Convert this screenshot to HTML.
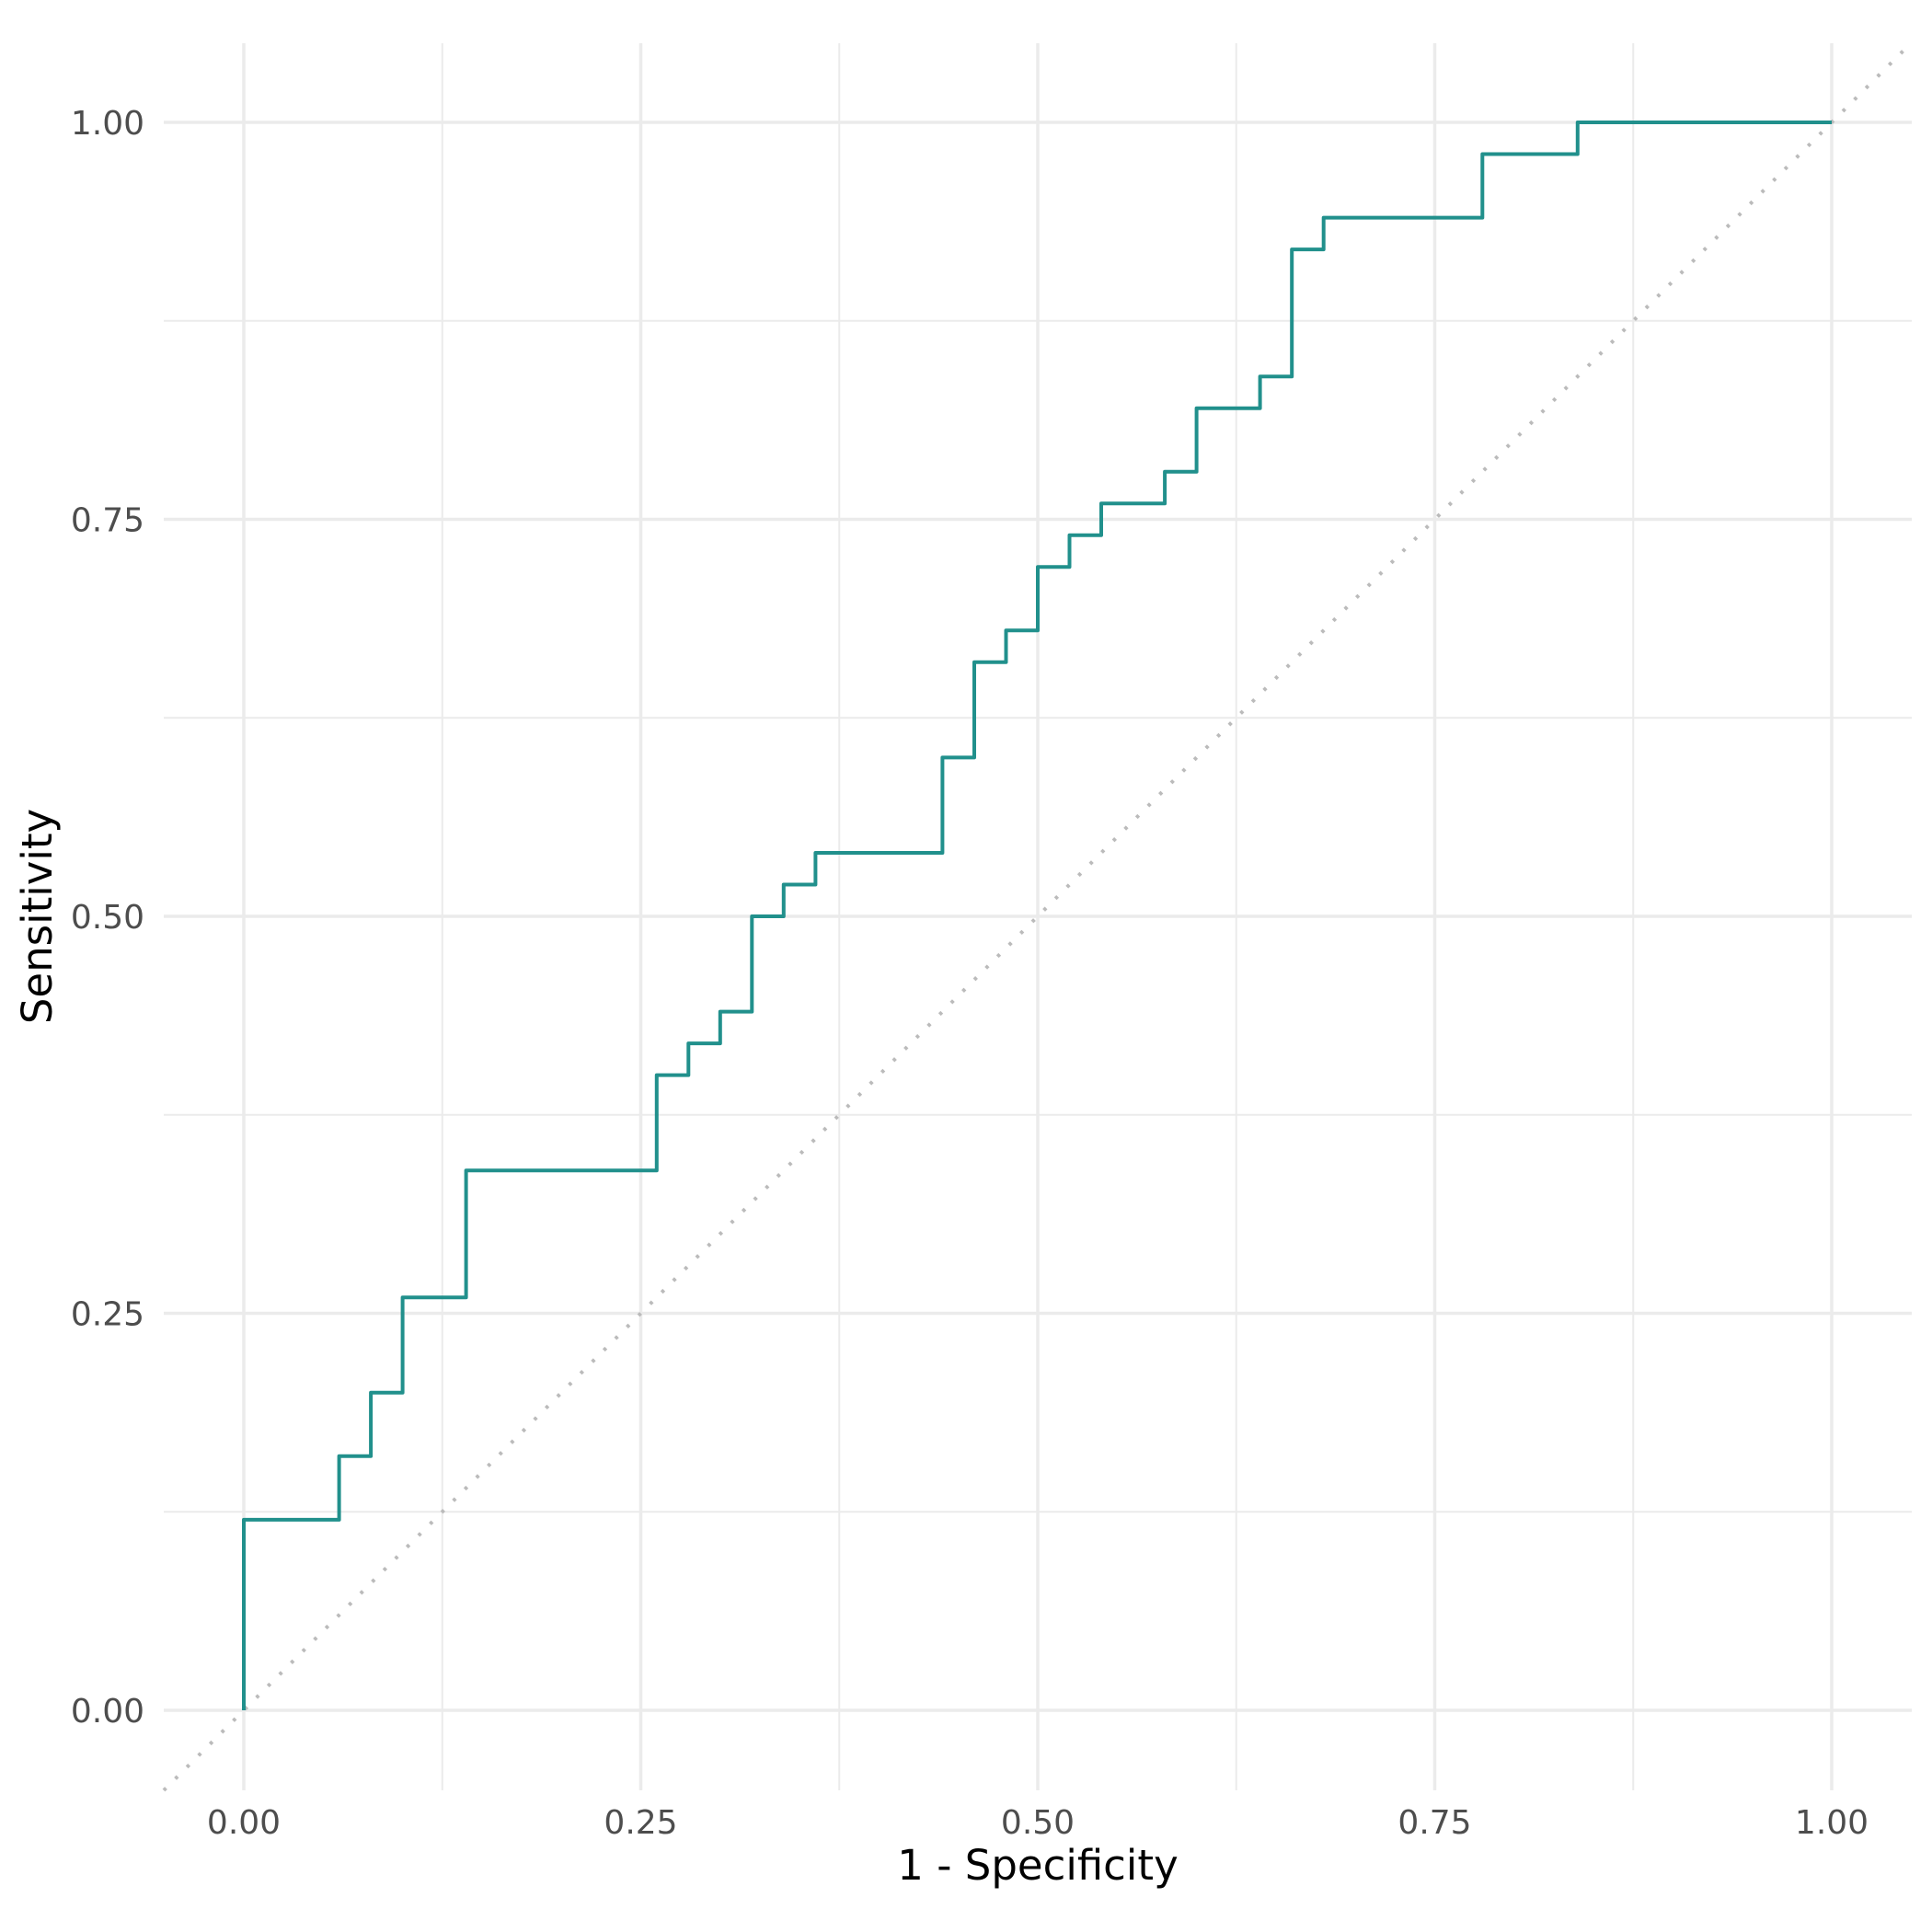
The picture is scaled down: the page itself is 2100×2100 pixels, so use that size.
<!DOCTYPE html>
<html><head><meta charset="utf-8"><style>
html,body{margin:0;padding:0;background:#fff;}
svg{display:block;font-family:"DejaVu Sans","Liberation Sans",sans-serif;}
</style></head><body>
<svg id="chart" width="2100" height="2100" viewBox="0 0 2100 2100" xmlns="http://www.w3.org/2000/svg">
<g id="grid"></g>
<line id="diag" stroke="#BBBBBB" stroke-width="4" stroke-dasharray="3.5 14.3"/>
<path id="roc" fill="none" stroke="#21908C" stroke-width="4" stroke-linejoin="round"/>
<g id="ticks"></g>
<text x="1128" y="2043" text-anchor="middle" font-size="45" fill="#000">1 - Specificity</text>
<text transform="translate(56,996) rotate(-90)" text-anchor="middle" font-size="45" fill="#000">Sensitivity</text>
</svg>
<script>
const fpr = [0,0,0.06,0.06,0.08,0.08,0.10,0.10,0.14,0.14,0.26,0.26,0.28,0.28,0.30,0.30,0.32,0.32,0.34,0.34,0.36,0.36,0.44,0.44,0.46,0.46,0.48,0.48,0.50,0.50,0.52,0.52,0.54,0.54,0.58,0.58,0.60,0.60,0.64,0.64,0.66,0.66,0.68,0.68,0.78,0.78,0.84,0.84,1.00];
const tpr = [0,0.12,0.12,0.16,0.16,0.20,0.20,0.26,0.26,0.34,0.34,0.40,0.40,0.42,0.42,0.44,0.44,0.50,0.50,0.52,0.52,0.54,0.54,0.60,0.60,0.66,0.66,0.68,0.68,0.72,0.72,0.74,0.74,0.76,0.76,0.78,0.78,0.82,0.82,0.84,0.84,0.92,0.92,0.94,0.94,0.98,0.98,1.00,1.00];
const majorTicks = [0,0.25,0.5,0.75,1];
const tickLabels = ["0.00","0.25","0.50","0.75","1.00"];
const minorTicks = [0.125,0.375,0.625,0.875];

const NS="http://www.w3.org/2000/svg";
const X0=265, X1=1991, Y0=1859, Y1=133;
const PL=178, PR=2078, PT=47, PB=1946;
const sx=v=>X0+(X1-X0)*v;
const sy=v=>Y0-(Y0-Y1)*v;
const vx=px=>(px-X0)/(X1-X0);
const grid=document.getElementById('grid');
function ln(x1,y1,x2,y2,w,name){
  const l=document.createElementNS(NS,'line');
  l.setAttribute('x1',x1);l.setAttribute('y1',y1);l.setAttribute('x2',x2);l.setAttribute('y2',y2);
  l.setAttribute('stroke','#EBEBEB');l.setAttribute('stroke-width',w);
  
  
  grid.appendChild(l);
}
minorTicks.forEach(t=>{ln(sx(t),PT,sx(t),PB,2,'minor-gridline-x');ln(PL,sy(t),PR,sy(t),2,'minor-gridline-y');});
majorTicks.forEach(t=>{ln(sx(t),PT,sx(t),PB,3.5,'major-gridline-x');ln(PL,sy(t),PR,sy(t),3.5,'major-gridline-y');});
const d=document.getElementById('diag');
const a=vx(PL), b=vx(PR);
d.setAttribute('x1',sx(a));d.setAttribute('y1',sy(a));d.setAttribute('x2',sx(b));d.setAttribute('y2',sy(b));
document.getElementById('roc').setAttribute('d',fpr.map((f,i)=>(i?'L':'M')+sx(f).toFixed(1)+','+sy(tpr[i]).toFixed(1)).join(''));
const ticks=document.getElementById('ticks');
majorTicks.forEach((t,i)=>{
  const tx=document.createElementNS(NS,'text');
  tx.setAttribute('x',sx(t));tx.setAttribute('y',1993);tx.setAttribute('text-anchor','middle');
  tx.setAttribute('font-size','36');tx.setAttribute('fill','#4D4D4D');tx.textContent=tickLabels[i];
  
  
  ticks.appendChild(tx);
  const ty=document.createElementNS(NS,'text');
  ty.setAttribute('x',157);ty.setAttribute('y',sy(t)+13);ty.setAttribute('text-anchor','end');
  ty.setAttribute('font-size','36');ty.setAttribute('fill','#4D4D4D');ty.textContent=tickLabels[i];
  
  
  ticks.appendChild(ty);
});
</script>
</body></html>
